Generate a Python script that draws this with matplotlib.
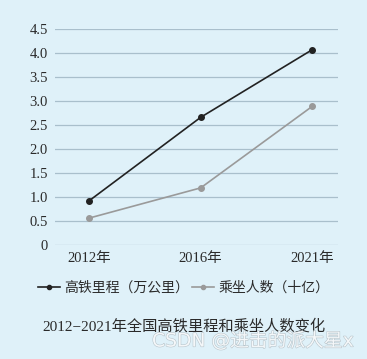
import matplotlib.pyplot as plt
import matplotlib.lines as mlines
import matplotlib.patheffects as pe

plt.rcParams['font.family'] = ['Liberation Serif', 'Noto Sans CJK SC', 'DejaVu Sans']

# Data
years = ['2012年', '2016年', '2021年']
mileage = [0.92, 2.66, 4.07]      # 高铁里程（万公里）
passengers = [0.56, 1.19, 2.89]   # 乘坐人数（十亿）
yticks = [0, 0.5, 1.0, 1.5, 2.0, 2.5, 3.0, 3.5, 4.0, 4.5]
ytick_labels = ['0', '0.5', '1.0', '1.5', '2.0', '2.5', '3.0', '3.5', '4.0', '4.5']

bg = '#dff1f9'
txt = '#2a2a2a'
fig = plt.figure(figsize=(3.67, 3.59), dpi=100, facecolor=bg)
ax = fig.add_axes([55 / 367, 114 / 359, 283 / 367, 216 / 359], facecolor=bg)

x = range(len(years))
ax.plot(x, mileage, color='#222222', linewidth=1.2, marker='o', markersize=4, zorder=3)
ax.plot(x, passengers, color='#9a9a9a', linewidth=1.2, marker='o', markersize=4, zorder=3)

ax.set_xlim(-0.305, 2.23)
ax.set_ylim(0, 4.5)
ax.set_yticks(yticks)
ax.set_yticklabels(ytick_labels)
ax.set_xticks(list(x))
ax.set_xticklabels(years)
ax.grid(axis='y', color='#a9bfcc', linewidth=0.9)
ax.set_axisbelow(True)
for s in ax.spines.values():
    s.set_visible(False)
ax.tick_params(length=0, labelsize=10.5, colors=txt)
ax.tick_params(axis='y', pad=5)
ax.tick_params(axis='x', pad=5)

h1 = mlines.Line2D([], [], color='#222222', linewidth=1.2, marker='o', markersize=3)
h2 = mlines.Line2D([], [], color='#9a9a9a', linewidth=1.2, marker='o', markersize=3)
fig.legend([h1, h2], ['高铁里程（万公里）', '乘坐人数（十亿）'],
           loc='center', bbox_to_anchor=(0.5, 1 - 288 / 359), ncol=2,
           frameon=False, fontsize=10, handlelength=1.6, handletextpad=0.3,
           columnspacing=0.2, labelcolor=txt)

fig.text(0.5, 1 - 326 / 359, '2012−2021年全国高铁里程和乘坐人数变化',
         ha='center', va='center', fontsize=11, color=txt)
fig.text(152 / 367, 1 - 341 / 359, 'CSDN @进击的派大星x',
         ha='left', va='center', fontsize=13.5, color='#f4f7f9',
         family=['DejaVu Sans', 'Noto Sans CJK SC'],
         path_effects=[pe.withStroke(linewidth=0.8, foreground='#b8c4ca')])

fig.savefig('out.png', dpi=100, facecolor=bg)
